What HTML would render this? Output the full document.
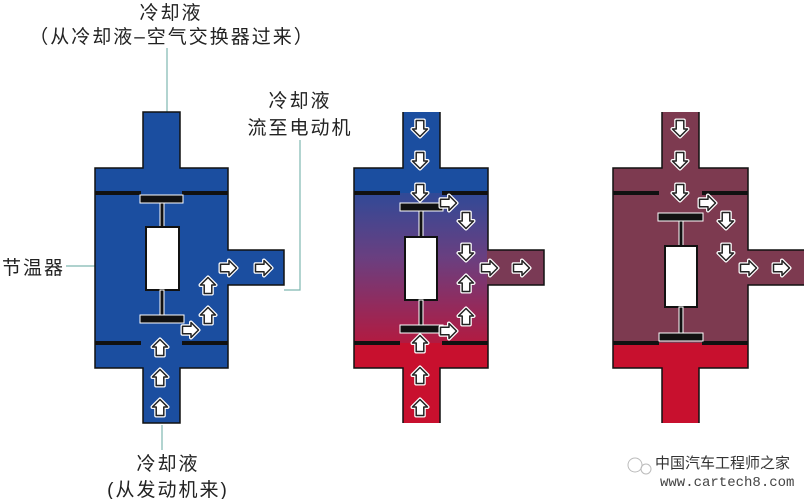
<!DOCTYPE html>
<html><head><meta charset="utf-8"><style>
html,body{margin:0;padding:0;background:#fff;width:804px;height:499px;overflow:hidden}
svg{display:block}
text{font-family:"Liberation Sans","Noto Sans CJK SC",sans-serif;fill:#222}
</style></head><body>
<svg width="804" height="499" viewBox="0 0 804 499" xmlns="http://www.w3.org/2000/svg">
<defs>
<linearGradient id="g" x1="0" y1="0" x2="0" y2="1">
<stop offset="0" stop-color="#1b4ea0"/>
<stop offset="0.45" stop-color="#6a3f80"/>
<stop offset="1" stop-color="#c8102e"/>
</linearGradient>
<g id="au"><path d="M0,-8.5 L7.5,-1 L3.8,-1 L3.8,7.5 L-3.8,7.5 L-3.8,-1 L-7.5,-1 Z" fill="#fff" stroke="#fff" stroke-width="4" stroke-linejoin="round"/><path d="M0,-8.5 L7.5,-1 L3.8,-1 L3.8,7.5 L-3.8,7.5 L-3.8,-1 L-7.5,-1 Z" fill="#fff" stroke="#222" stroke-width="1.5" stroke-linejoin="round"/></g>
</defs>
<g fill="none" stroke="#7fb8b0" stroke-width="1.2">
<path d="M167,48 V113"/><path d="M300,140 V290 H284"/><path d="M66,266 H95"/><path d="M162,425 V450"/>
</g>
<g style="letter-spacing:2px">
<text x="171" y="19" font-size="19" text-anchor="middle">冷却液</text>
<text x="172" y="43" font-size="19" text-anchor="middle">（从冷却液–空气交换器过来）</text>
<text x="300" y="107" font-size="19" text-anchor="middle">冷却液</text>
<text x="300" y="134" font-size="19" text-anchor="middle">流至电动机</text>
<text x="2" y="274" font-size="19">节温器</text>
<text x="168" y="470" font-size="19" text-anchor="middle">冷却液</text>
<text x="168" y="496" font-size="19" text-anchor="middle">(从发动机来)</text>
</g>
<text x="655" y="468" font-size="15" style="fill:#333">中国汽车工程师之家</text>
<text x="660" y="486" font-size="14" style="fill:#444;font-family:'Liberation Mono',monospace">www.cartech8.com</text>
<circle cx="635" cy="465" r="7" fill="none" stroke="#bbb" stroke-width="1"/>
<circle cx="646" cy="469" r="5" fill="none" stroke="#bbb" stroke-width="1"/>

<!-- LEFT -->
<path d="M143,112 H180 V168 H228 V250 H284 V285 H228 V368 H180 V423 H143 V368 H95 V168 H143 Z" fill="#1b4ea0" stroke="#111" stroke-width="1.5"/>
<g fill="#111"><rect x="95" y="191" width="46" height="4"/><rect x="182" y="191" width="46" height="4"/><rect x="95" y="341" width="46" height="4"/><rect x="182" y="341" width="46" height="4"/></g>
<g stroke="#fff" stroke-width="1">
<rect x="140" y="195" width="43" height="8" fill="#111"/><rect x="160" y="203" width="4" height="24" fill="#111"/>
<rect x="146" y="227" width="33" height="63" fill="#fff" stroke="#111" stroke-width="2"/>
<rect x="160" y="290" width="4" height="25" fill="#111"/><rect x="140" y="315" width="44" height="8" fill="#111"/>
</g>
<use href="#au" transform="translate(160,408)"/><use href="#au" transform="translate(160,378)"/><use href="#au" transform="translate(160,348)"/>
<use href="#au" transform="translate(208,316)"/><use href="#au" transform="translate(208,286)"/>
<use href="#au" transform="translate(190,330) rotate(90)"/><use href="#au" transform="translate(228,268) rotate(90)"/><use href="#au" transform="translate(263,268) rotate(90)"/>

<!-- MIDDLE -->
<rect x="354" y="168" width="134" height="200" fill="url(#g)"/>
<rect x="354" y="168" width="134" height="25" fill="#1b4ea0"/>
<rect x="354" y="343" width="134" height="25" fill="#c8102e"/>
<rect x="403" y="112" width="37" height="57" fill="#1b4ea0"/>
<rect x="403" y="367" width="37" height="56" fill="#c8102e"/>
<rect x="487" y="250" width="57" height="35" fill="#7a3a55"/>
<path d="M403,112 V168 H354 V368 H403 V423 M440,423 V368 H488 V285 H544 V250 H488 V168 H440 V112" fill="none" stroke="#111" stroke-width="1.5"/>
<g fill="#111"><rect x="354" y="191" width="46" height="4"/><rect x="442" y="191" width="46" height="4"/><rect x="354" y="341" width="46" height="4"/><rect x="442" y="341" width="46" height="4"/></g>
<g stroke="#fff" stroke-width="1">
<rect x="400" y="203" width="43" height="8" fill="#111"/><rect x="419" y="211" width="4" height="26" fill="#111"/>
<rect x="405" y="237" width="32" height="63" fill="#fff" stroke="#111" stroke-width="2"/>
<rect x="419" y="300" width="4" height="25" fill="#111"/><rect x="400" y="325" width="43" height="8" fill="#111"/>
</g>
<use href="#au" transform="translate(420,128) rotate(180)"/><use href="#au" transform="translate(420,160) rotate(180)"/><use href="#au" transform="translate(420,192) rotate(180)"/>
<use href="#au" transform="translate(448,203) rotate(90)"/><use href="#au" transform="translate(466,220) rotate(180)"/><use href="#au" transform="translate(466,252) rotate(180)"/>
<use href="#au" transform="translate(489,268) rotate(90)"/><use href="#au" transform="translate(521,268) rotate(90)"/>
<use href="#au" transform="translate(466,284)"/><use href="#au" transform="translate(466,317)"/>
<use href="#au" transform="translate(448,331) rotate(90)"/>
<use href="#au" transform="translate(420,344)"/><use href="#au" transform="translate(420,376)"/><use href="#au" transform="translate(420,408)"/>

<!-- RIGHT -->
<path d="M662,112 H699 V168 H748 V250 H804 V285 H748 V368 H699 V423 H662 V368 H613 V168 H662 Z" fill="#7d3a50"/>
<rect x="613" y="343" width="135" height="25" fill="#c8102e"/>
<rect x="662" y="343" width="37" height="80" fill="#c8102e"/>
<path d="M662,112 V168 H613 V368 H662 V423 M699,423 V368 H748 V285 H804 M804,250 H748 V168 H699 V112" fill="none" stroke="#111" stroke-width="1.5"/>
<g fill="#111"><rect x="613" y="191" width="46" height="4"/><rect x="702" y="191" width="46" height="4"/><rect x="613" y="341" width="46" height="4"/><rect x="702" y="341" width="46" height="4"/></g>
<g stroke="#fff" stroke-width="1">
<rect x="658" y="213" width="45" height="8" fill="#111"/><rect x="679" y="221" width="4" height="25" fill="#111"/>
<rect x="665" y="246" width="32" height="61" fill="#fff" stroke="#111" stroke-width="2"/>
<rect x="679" y="307" width="4" height="26" fill="#111"/><rect x="659" y="333" width="44" height="8" fill="#111"/>
</g>
<use href="#au" transform="translate(680,128) rotate(180)"/><use href="#au" transform="translate(680,160) rotate(180)"/><use href="#au" transform="translate(680,192) rotate(180)"/>
<use href="#au" transform="translate(707,203) rotate(90)"/><use href="#au" transform="translate(726,220) rotate(180)"/><use href="#au" transform="translate(726,252) rotate(180)"/>
<use href="#au" transform="translate(748,268) rotate(90)"/><use href="#au" transform="translate(781,268) rotate(90)"/>
</svg>
</body></html>
